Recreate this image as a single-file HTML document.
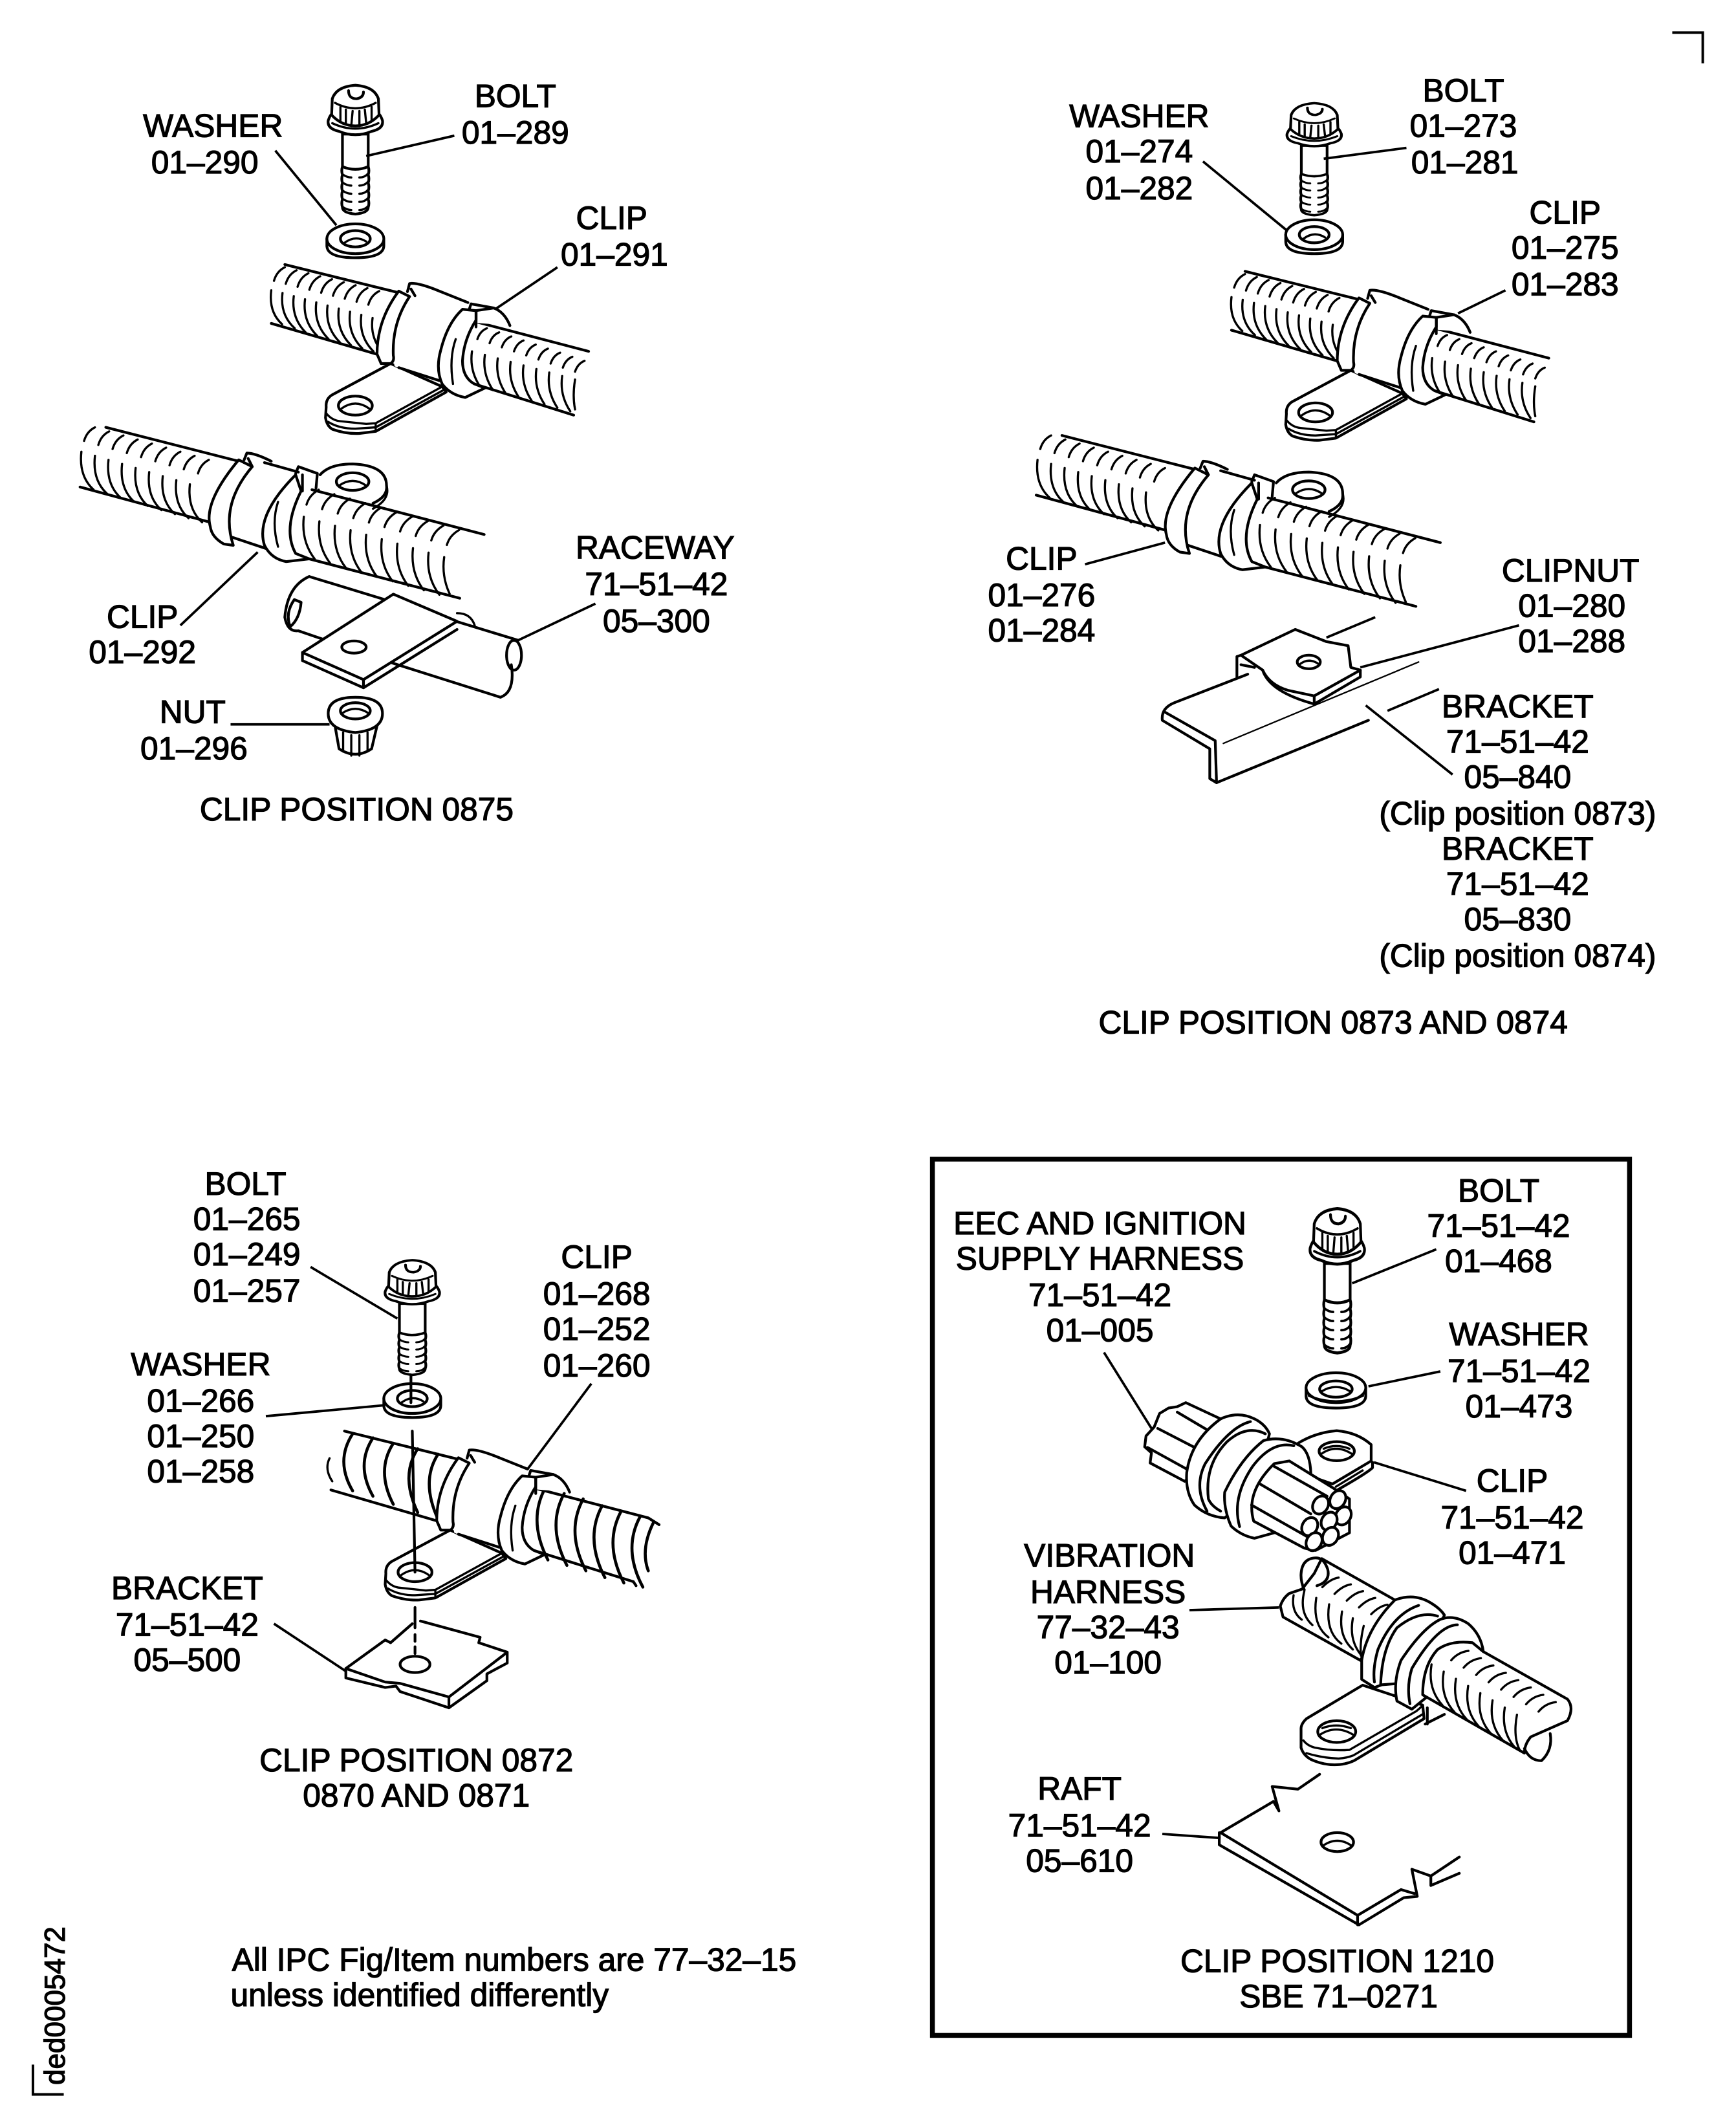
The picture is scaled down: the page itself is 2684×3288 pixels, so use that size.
<!DOCTYPE html>
<html><head><meta charset="utf-8"><style>
html,body{margin:0;padding:0;background:#fff}
svg{display:block}
text{font-family:"Liberation Sans",sans-serif;font-size:23.7px;fill:#000;stroke:#000;stroke-width:.6;text-anchor:middle}
.s{fill:none;stroke:#000;stroke-width:2;stroke-linejoin:round;stroke-linecap:round}
.w{fill:#fff;stroke:#000;stroke-width:2;stroke-linejoin:round;stroke-linecap:round}
.f{fill:#fff;stroke:none}
.r{fill:none;stroke:#000;stroke-width:1.6;stroke-linecap:round}
.b{fill:none;stroke:#000;stroke-width:2.2;stroke-linecap:round}
.t{fill:none;stroke:#000;stroke-width:1.1;stroke-linecap:round}
.l{fill:none;stroke:#000;stroke-width:1.8}
</style></head><body>
<svg xmlns="http://www.w3.org/2000/svg" width="2684" height="3288" viewBox="0 0 1280 1568">
<defs>
<g id="bolt">
<path class="w" d="M-9.5,36V60Q0,64 9.5,60V36Z"/>
<path class="s" d="M-9.5,60q-1,3 0,6q-1,3 0,6q-1,3 0,6q-1,3 0,6q-1,3 0,6q0,4 9.5,5q9.5,-1 9.5,-5q1,-3 0,-6q1,-3 0,-6q1,-3 0,-6q1,-3 0,-6q1,-3 0,-6"/>
<path class="r" d="M-9,66Q-6,68-3,68M3,68Q7,68 9.5,65M-9,72Q-6,74-3,74M3,74Q7,74 9.5,71M-9,78Q-6,80-3,80M3,80Q7,80 9.5,77M-9,84Q-6,86-3,86M3,86Q7,86 9.5,83M-9,90Q-6,92-3,92M3,92Q7,92 9.5,89"/>
<path class="w" d="M-20,26Q-21,32-12,34Q0,39 12,34Q21,32 20,26Q18,20 15,20H-15Q-18,20-20,26Z"/>
<path class="w" d="M-17.5,22L-17,10Q-14,1 0,0Q14,1 17,10L17.5,22Q10,30 0,30Q-10,30-17.5,22Z"/>
<path class="r" d="M-15,13Q0,21 15,13M-11,16L-11,26M-7,18L-7,28M-2,19L-3,30M3,19L3,30M7,18L8,28M12,16L12,26M-17,28Q0,36 17,28"/>
<path class="s" d="M-5,4Q-5,10 1,10Q6,9 6,5"/>
</g>
<g id="washer">
<path class="w" d="M-21,0V5Q-21,14 0,14Q21,14 21,5V0Z"/>
<ellipse class="w" cx="0" cy="0" rx="21" ry="11"/>
<ellipse class="s" cx="0" cy="0" rx="11" ry="6"/>
<path class="r" d="M-8,3Q0,-3 8,2"/>
</g>
<g id="a1">
<path class="w" d="M288,268L245,291Q240,294 240.5,300L240,308Q241,314 245,316.4Q255,320 265,319.5L277,318L329,289L326,285Z"/>
<path class="r" d="M240.8,305Q245,310 251,310.5L270,312.5L277,312L326,285M242,311Q250,316 262,316L277,315L328,287M277,312V318"/>
<ellipse class="s" cx="262" cy="299" rx="12.5" ry="7"/>
<path class="r" d="M252,301Q262,294 272,301"/>
<path class="s" d="M210,195L292.5,215.4M200,238.4L281,262"/>
<path class="s" d="M350,237L434,259M349.7,283L423,306"/>
</g>
<g id="aribs">
<path class="r" d="M202,207q2,-7 8,-10m.7,12.2q2,-7 8,-10m.7,12.2q2,-7 8,-10m.7,12.2q2,-7 8,-10m.7,12.2q2,-7 8,-10m.7,12.2q2,-7 8,-10m.7,12.2q2,-7 8,-10m.7,12.2q2,-7 8,-10m.7,12.2q2,-7 8,-10"/>
<path class="r" d="M200,214q-2,16 8,25m.3,-23q-2,16 9,26m-.7,-23.7q-2,16 9,27m-.7,-24.7q-2,16 9,27m-.7,-24.7q-2,16 9,27m-.7,-24.7q-2,16 9,27m-.7,-24.7q-2,16 9,27m-.7,-24.7q-2,16 9,27m-.7,-24.7q-2,16 9,27m-.7,-24.7q-2,14 7,25"/>
<path class="r" d="M352,250q2,-6 7,-8m2,11q2,-6 7,-8m2,11q2,-6 7,-8m2,11q2,-6 7,-8m2,11q2,-6 7,-8m2,11q2,-6 7,-8m2,11q2,-6 7,-8m2,11q2,-6 7,-8m2,11q2,-6 7,-8"/>
<path class="r" d="M348,259q-2,14 6,26m3.5,-23.4q-2,14 6,26m3.5,-23.4q-2,14 6,26m3.5,-23.4q-2,14 6,26m3.5,-23.4q-2,14 6,26m3.5,-23.4q-2,14 6,26m3.5,-23.4q-2,14 6,26m3.5,-23.4q-2,14 6,26m3.5,-23.4q-2,12 0,22"/>
</g>
<g id="a2">
<path class="w" d="M351,238L351,229L364,227Q372,230 376,240"/>
<path class="f" d="M296,216L345,224L326,283L291,270Q283,240 296,216Z"/>
<path class="s" d="M324,214.6L345,223M294,271L324,280.6"/>
<path class="w" d="M294,214.6Q278,236 278,261L281,268L288,268Q291,266 290,262Q289,238 302,218.6Z"/>
<path class="s" d="M300.4,215L302,209Q308,208 324,214.6M303,213L306,218"/>
<path class="w" d="M341,228Q330,238 325,258Q321,272 326,283Q332,291 343,293L357.6,286L349.7,283Q341,278 341,266Q342,250 351,236L351,229Z"/>
<path class="s" d="M346,228L347.3,224L364,227M351,229.7V241"/>
<path class="r" d="M336,250Q331,264 334,283"/>
</g>
<g id="clipB">
<path class="f" d="M235,352Q240,342 260,342Q285,343 285,358Q286,366 275,371L235,372Z"/>
<path class="s" d="M236,350Q243,342 260,342Q285,343 285,358Q286,366 275,371"/>
<ellipse class="s" cx="260" cy="355" rx="12" ry="6.5"/>
<path class="r" d="M250,358Q260,351 270,358M275,375Q288,368 285,358"/>
<path class="s" d="M78,315L176,340M59,359L155,385"/>
<path class="s" d="M230,361L357,394M228,412L339,441"/>
<path class="r" d="M62,325q2,-7 8,-10m2.5,13q2,-7 8,-10m2.5,13q2,-7 8,-10m2.5,13q2,-7 8,-10m2.5,13q2,-7 8,-10m2.5,13q2,-7 8,-10m2.5,13q2,-7 8,-10m2.5,13q2,-7 8,-10m2.5,13q2,-7 8,-10"/>
<path class="r" d="M60,333q-2,18 9,28m1,-25q-2,18 9,28m1,-25q-2,18 9,28m1,-25q-2,18 9,28m1,-25q-2,18 9,28m1,-25q-2,18 9,28m1,-25q-2,18 9,28m1,-25q-2,18 9,28m1,-25q-2,18 9,28"/>
<path class="r" d="M226,372q2,-7 9,-11m2.5,14.3q2,-7 9,-11m2.5,14.3q2,-7 9,-11m2.5,14.3q2,-7 9,-11m2.5,14.3q2,-7 9,-11m2.5,14.3q2,-7 9,-11m2.5,14.3q2,-7 9,-11m2.5,14.3q2,-7 9,-11m2.5,14.3q2,-7 9,-11m2.5,14.3q2,-7 9,-11"/>
<path class="r" d="M224,381q-2,18 8,31m3.5,-27.7q-2,18 8,31m3.5,-27.7q-2,18 8,31m3.5,-27.7q-2,18 8,31m3.5,-27.7q-2,18 8,31m3.5,-27.7q-2,18 8,31m3.5,-27.7q-2,18 8,31m3.5,-27.7q-2,18 8,31m3.5,-27.7q-2,18 8,31m3.5,-27.7q-2,14 4,27"/>
<path class="f" d="M180,340L222,352L208,414L165,400Q160,370 180,340Z"/>
<path class="s" d="M195,341L220,348M171,396L198,405"/>
<path class="w" d="M176,339Q150,370 155,388Q156,396 165,401L172,402Q162,372 186,344Z"/>
<path class="s" d="M180,339L182,334Q188,334 200,340M183,338L186,344"/>
<path class="w" d="M218,350Q188,380 195,402Q200,412 211,414L228,412L218,408Q208,390 222,362Z"/>
<path class="s" d="M218,349L220,344L234,349L233,360M223,350V362"/>
<path class="r" d="M205,370Q200,385 205,403"/>
</g>
</defs>
<rect width="1280" height="1568" fill="#fff"/>

<!-- corners -->
<path d="M1233,24H1255.5V46.7" fill="none" stroke="#000" stroke-width="1.9"/>
<path d="M24.3,1522V1544H47" fill="none" stroke="#000" stroke-width="1.9"/>
<text transform="translate(47.7,1537) rotate(-90)" style="font-size:21px;text-anchor:start">ded0005472</text>

<!-- position 0875 -->
<use href="#bolt" transform="translate(262,62.8)"/>
<use href="#washer" transform="translate(262,176)"/>
<use href="#a1"/><use href="#aribs"/><use href="#a2"/>
<use href="#clipB"/>
<g>
<path class="s" d="M228,425L382,472M220,465L290,489M290,489L369,514Q380,510 377,490"/>
<path class="w" d="M228,425Q212,432 210,455Q212,466 220,465"/>
<path class="s" d="M217,442Q210,452 214,462Q221,456 222,444Z"/>
<ellipse class="s" cx="379" cy="483" rx="5.5" ry="11"/>
<path class="w" d="M223,481L290,438L337,458L268,501Z"/>
<path class="s" d="M223,481V487L268,507V501M268,507L337,464"/>
<ellipse class="s" cx="261" cy="477" rx="9" ry="4.5"/>
<path class="r" d="M337,452Q347,452 350,461"/>
</g>
<g>
<path class="w" d="M247,535L250,552Q262,560 274,552L278,535Z"/>
<path class="r" d="M253,540V554M259,542V557M265,542V557M271,540V554"/>
<path class="w" d="M242,526Q242,514 262,514Q282,514 282,526Q282,538 262,540Q242,538 242,526Z"/>
<ellipse class="s" cx="262" cy="524" rx="11" ry="6"/>
<path class="r" d="M252,526Q262,519 272,526"/>
</g>
<path class="l" d="M335,100L270,115M203,111L248,166M411,197L365,228M133,461L190,407M439,445L382,472M170,534H243"/>

<!-- position 0873/0874 -->
<use href="#bolt" transform="translate(969,76) scale(1,.87)"/>
<use href="#washer" transform="translate(969,173)"/>
<g transform="translate(708,5)"><use href="#a1"/><use href="#aribs"/><use href="#a2"/></g>
<use href="#clipB" transform="translate(705,6)"/>
<g>
<path class="s" d="M920,497L866,518Q856,522 857,531L892,552V574L897,577L1009,531"/>
<path class="s" d="M859,525L896,546L897,577"/>
<path class="t" d="M902,548L1046,488"/>
<path class="w" d="M912,499V484L915,483L955,464L978,473L994,476L996,492L1003,494L969,513L950,509Q936,505 931,494L915,483"/>
<path class="s" d="M915,490L925,492M931,494Q936,510 969,519L1003,499V494M969,513V519"/>
<ellipse class="s" cx="965" cy="488" rx="8.5" ry="5"/>
<path class="r" d="M958,490Q965,484 973,490"/>
<path class="l" d="M978,470L1014,455M1023,524L1061,508M1007,520L1071,571M1037,109L976,117M887,119L949,170M1110,214L1075,231M800,416L859,400M1120,461L1003,492"/>
</g>

<!-- position 0872 -->
<g transform="translate(44,860)"><use href="#a1"/></g>
<path class="s" d="M478,1119L486,1124M467,1166L469,1169"/>
<path class="b" d="M260,1057q-13,20 0,42M275,1060q-13,20 0,43M290,1064q-13,20 0,45M308,1068q-13,20 0,47M323,1072q-13,20 0,48M402,1097q-13,24 2,53M416,1101q-13,24 2,53M430,1105q-13,24 2,53M444,1110q-13,24 2,53M458,1114q-13,24 2,53M472,1118q-13,24 2,52M482,1122q-10,20 -4,36"/>
<path class="r" d="M243,1075q-4,8 2,17"/>
<g transform="translate(44,860)"><use href="#a2"/></g>
<use href="#bolt" transform="translate(304,929) scale(1,.89)"/>
<use href="#washer" transform="translate(304,1031)"/>
<g>
<path class="s" d="M303,1014V1034M304,1055L306,1159M306,1185V1200"/>
<path class="s" d="M306,1205V1223" stroke-dasharray="5 4"/>
<path class="s" d="M255,1230L284,1209L288,1211L304,1197"/>
<path class="s" d="M310,1195L354,1207L353,1211L374,1218V1226L359,1234V1239L331,1259L295,1247L292,1243L284,1244L255,1237V1230L284,1240L295,1241L331,1251L374,1218"/>
<path class="s" d="M331,1251V1259"/>
<ellipse class="s" cx="306" cy="1227" rx="11" ry="6"/>
<path class="l" d="M229,934L293,972M196,1044L283,1036M436,1020L389,1083M202,1197L255,1232"/>
</g>

<!-- box -->
<rect x="687.5" y="854.5" width="514" height="646" fill="none" stroke="#000" stroke-width="3.6"/>
<use href="#bolt" transform="translate(986,891) scale(1,1.12)"/>
<g transform="translate(985,1023)">
<path class="w" d="M-22,0V6Q-22,15 0,15Q22,15 22,6V0Z"/>
<ellipse class="w" cx="0" cy="0" rx="22" ry="11"/>
<ellipse class="s" cx="0" cy="1" rx="12" ry="6"/>
<path class="r" d="M-11,3Q0,-4 11,3M-20,6Q0,14 20,6"/>
</g>
<!-- harness -->
<g>
<path class="w" d="M957,1064Q970,1056 985.6,1054.7Q1001,1056 1011,1065V1077L982.4,1094L957,1085Z"/>
<path class="s" d="M1012,1078L1012,1082Q1008,1086 985,1099"/>
<path class="r" d="M1004.7,1084L985,1096"/>
<ellipse class="s" cx="985.6" cy="1069.8" rx="13" ry="7"/>
<path class="r" d="M974,1072Q985,1064 997,1072M976,1068Q985,1064 995,1068"/>
<path class="w" d="M900,1046L874.3,1034L868,1037L861.6,1038L855,1042L851,1052L845,1058.6L844,1066.6L849,1071L848,1078.5L873.5,1092L890,1080Z"/>
<path class="s" d="M868,1041L890,1054M853.6,1053L880.7,1067M846,1067L875,1083"/>
<path class="w" d="M900,1046Q913,1040 925,1046Q933,1050 936,1057L925,1100L903,1119Q890,1118 880.7,1109.5Q874,1100 875,1085.7Q878,1062 900,1046Z"/>
<path class="s" d="M922,1048Q906,1052 888.6,1079Q880,1096 890,1114"/>
<path class="s" d="M933,1057Q919,1050 904.5,1063Q888,1080 891,1105Q893,1110 900,1114"/>
<path class="w" d="M931.6,1062Q915,1075 903,1100Q902,1112 907.7,1125Q915,1132 925,1134L939.5,1130L966.5,1086Q966,1072 960,1066.6Q946,1058 931.6,1062Z"/>
<path class="s" d="M954,1065.8Q938,1062 923.6,1081Q908,1104 914,1125.4"/>
<path class="w" d="M939.5,1079L950.6,1077L984,1097.6L995,1105L995,1130L970,1143L961.8,1141.3L924.4,1121.4Q918,1100 939.5,1079Z"/>
<path class="s" d="M939.5,1081L978.5,1103M928.4,1093.6L966.5,1116M922.8,1109.5L963.4,1132.6"/>
<ellipse class="w" transform="rotate(30 973.7 1109.5)" cx="973.7" cy="1109.5" rx="5.5" ry="7"/>
<ellipse class="w" transform="rotate(30 986.4 1105.5)" cx="986.4" cy="1105.5" rx="5.5" ry="7"/>
<ellipse class="w" transform="rotate(30 990.4 1117.5)" cx="990.4" cy="1117.5" rx="5.5" ry="7"/>
<ellipse class="w" transform="rotate(30 980 1121.4)" cx="980" cy="1121.4" rx="5.5" ry="7"/>
<ellipse class="w" transform="rotate(30 965.7 1125.4)" cx="965.7" cy="1125.4" rx="5.5" ry="7"/>
<ellipse class="w" transform="rotate(30 981 1132.6)" cx="981" cy="1132.6" rx="5.5" ry="7"/>
<ellipse class="w" transform="rotate(30 968.9 1136.5)" cx="968.9" cy="1136.5" rx="5.5" ry="7"/>
</g>
<!-- vibration harness -->
<g>
<path class="w" d="M1004.7,1242.3L963.3,1267Q959,1271 959.3,1275V1288.4Q961,1294 966.5,1297Q975,1301 984,1301Q992,1301 998.3,1298L1050,1267L1049,1257Z"/>
<path class="r" d="M961,1283Q964,1287 969.7,1288.4Q982,1291 995,1290L1044.4,1261.4L1049,1257.4M963.3,1292.4Q975,1296 987,1296.4Q993,1296 998,1294L1049,1263.7"/>
<ellipse class="s" cx="985.6" cy="1276.5" rx="14" ry="8"/>
<path class="r" d="M973,1279Q985,1271 998,1279M975,1274Q985,1270 996,1274"/>
<path class="s" d="M1052.4,1259V1271M1050.8,1271L1065,1263.8"/>
<path class="w" d="M960,1171.5L950.6,1174.7Q946,1178 944,1184L946,1192L1003,1224L1028.5,1179.5L974.5,1149L969,1160Z"/>
<path class="s" d="M971,1169Q981,1166 979,1157Q976,1148 969.7,1148.5Q960,1149 959.3,1160.4Q959,1166 961.7,1172"/>
<path class="r" d="M975,1170q6,-6 12,-7M984,1175q6,-6 12,-7M993,1180q6,-6 12,-7M1002,1185q6,-6 12,-7M1011,1190q6,-6 12,-7"/>
<path class="r" d="M953.8,1176q-2,12 6,18M961.7,1173q-4,16 6,25M970.5,1178q-3,20 9,29M980,1182.7q-3,20 9,29M989.5,1188q-3,18 8,28M997.5,1193q-3,16 6,27M1005.5,1198.6q-3,12 -2,22"/>
<path class="w" d="M1028.5,1179.5Q1043,1174 1055.5,1182Q1062,1186 1065,1190.6L1045,1240L1019,1242L1013.4,1244L1004,1238V1224Q1008,1200 1028.5,1179.5Z"/>
<path class="s" d="M1046,1183.5Q1027,1190 1016,1216Q1012,1230 1013.4,1240"/>
<path class="s" d="M1060,1191.4Q1046,1187 1030,1200Q1019,1215 1018,1241.5"/>
<path class="w" d="M1062,1193.8Q1049,1200 1033,1224Q1027,1240 1030,1254L1041,1260L1048.4,1254L1093.7,1217.6Q1092,1205 1082.6,1197Q1072,1190 1062,1193.8Z"/>
<path class="s" d="M1074.6,1197.8Q1060,1198 1041,1230Q1037,1243 1039.6,1256"/>
<path class="w" d="M1060,1216Q1070,1209 1085.7,1211L1093.7,1217.6L1155.7,1252.6Q1161,1259 1155.7,1268.5L1128.7,1280.4Q1124,1286 1124,1292.4L1049,1249.4Q1049,1228 1060,1216Z"/>
<path class="s" d="M1143,1278Q1145,1290 1136.6,1298Q1128,1298 1124,1289"/>
<path class="r" d="M1070,1224q5,-6 12.7,-7m-3.5,12.4q5,-6 12.7,-7m-3.5,12.4q5,-6 12.7,-7m-3.5,12.4q5,-6 12.7,-7m-3.5,12.4q5,-6 12.7,-7m-3.5,12.4q5,-6 12.7,-7m-3.5,12.4q5,-6 12.7,-7m-3.5,12.4q5,-6 12.7,-7"/>
<path class="r" d="M1055.5,1227q-3,18 8,30m1,-24.7q-3,18 8,30m1,-24.7q-3,18 8,30m1,-24.7q-3,18 8,30m1,-24.7q-3,18 8,30m1,-24.7q-3,18 8,30m1,-24.7q-3,18 8,30m1,-24.7q-3,16 2,26"/>
</g>
<!-- raft -->
<g>
<path class="s" d="M900,1351L939,1328L943,1335L938,1317L957,1319L973,1308"/>
<path class="s" d="M900,1351L1001,1412M899,1360L1002,1419M899,1351V1360M1001,1412V1419"/>
<path class="s" d="M1001,1412L1033,1393M1002,1419L1035,1399L1045,1398L1041,1378L1055,1383M1033,1393L1043,1396M1055,1383V1390L1076,1381M1055,1383L1076,1369"/>
<ellipse class="s" cx="986" cy="1358" rx="12" ry="7"/>
<path class="r" d="M975,1361Q986,1353 997,1361"/>
</g>
<path class="l" d="M1059,921L997,946M1062,1011L1009,1022M1081,1099L1013,1078M814,997L849,1053M877,1187L943,1185M857,1352L900,1355"/>

<!-- text -->
<g transform="translate(0,7.8)">
<text x="157" y="93">WASHER</text><text x="151" y="120">01–290</text>
<text x="380" y="71">BOLT</text><text x="380" y="98">01–289</text>
<text x="451" y="161">CLIP</text><text x="453" y="188">01–291</text>
<text x="483" y="404">RACEWAY</text><text x="484" y="431">71–51–42</text><text x="484" y="458">05–300</text>
<text x="105" y="455">CLIP</text><text x="105" y="481">01–292</text>
<text x="142" y="525">NUT</text><text x="143" y="552">01–296</text>
<text x="263" y="597">CLIP POSITION 0875</text>

<text x="840" y="86">WASHER</text><text x="840" y="112">01–274</text><text x="840" y="139">01–282</text>
<text x="1079" y="67">BOLT</text><text x="1079" y="93">01–273</text><text x="1080" y="120">01–281</text>
<text x="1154" y="157">CLIP</text><text x="1154" y="183">01–275</text><text x="1154" y="210">01–283</text>
<text x="768" y="412">CLIP</text><text x="768" y="439">01–276</text><text x="768" y="465">01–284</text>
<text x="1158" y="421">CLIPNUT</text><text x="1159" y="447">01–280</text><text x="1159" y="473">01–288</text>
<text x="1119" y="521">BRACKET</text><text x="1119" y="547">71–51–42</text><text x="1119" y="573">05–840</text><text x="1119" y="600">(Clip position 0873)</text>
<text x="1119" y="626">BRACKET</text><text x="1119" y="652">71–51–42</text><text x="1119" y="678">05–830</text><text x="1119" y="705">(Clip position 0874)</text>
<text x="983" y="754">CLIP POSITION 0873 AND 0874</text>

<text x="181" y="873">BOLT</text><text x="182" y="899">01–265</text><text x="182" y="925">01–249</text><text x="182" y="952">01–257</text>
<text x="148" y="1006">WASHER</text><text x="148" y="1033">01–266</text><text x="148" y="1059">01–250</text><text x="148" y="1085">01–258</text>
<text x="440" y="927">CLIP</text><text x="440" y="954">01–268</text><text x="440" y="980">01–252</text><text x="440" y="1007">01–260</text>
<text x="138" y="1171">BRACKET</text><text x="138" y="1198">71–51–42</text><text x="138" y="1224">05–500</text>
<text x="307" y="1298">CLIP POSITION 0872</text><text x="307" y="1324">0870 AND 0871</text>
<text x="171" y="1445" style="text-anchor:start">All IPC Fig/Item numbers are 77–32–15</text>
<text x="170" y="1471" style="text-anchor:start">unless identified differently</text>

<text x="1105" y="878">BOLT</text><text x="1105" y="904">71–51–42</text><text x="1105" y="930">01–468</text>
<text x="811" y="902">EEC AND IGNITION</text><text x="811" y="928">SUPPLY HARNESS</text><text x="811" y="955">71–51–42</text><text x="811" y="981">01–005</text>
<text x="1120" y="984">WASHER</text><text x="1120" y="1011">71–51–42</text><text x="1120" y="1037">01–473</text>
<text x="1115" y="1092">CLIP</text><text x="1115" y="1119">71–51–42</text><text x="1115" y="1145">01–471</text>
<text x="818" y="1147">VIBRATION</text><text x="817" y="1174">HARNESS</text><text x="817" y="1200">77–32–43</text><text x="817" y="1226">01–100</text>
<text x="796" y="1319">RAFT</text><text x="796" y="1346">71–51–42</text><text x="796" y="1372">05–610</text>
<text x="986" y="1446">CLIP POSITION 1210</text><text x="987" y="1472">SBE 71–0271</text>
</g>
</svg>
</body></html>
